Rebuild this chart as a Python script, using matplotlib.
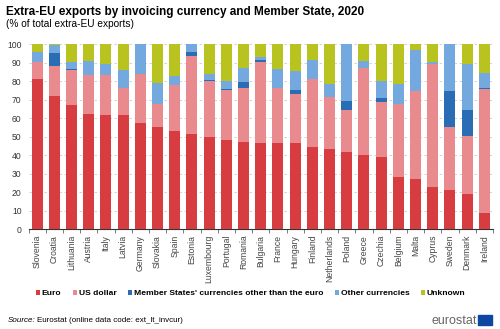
import numpy as np
import matplotlib.pyplot as plt
from matplotlib.patches import Rectangle

plt.rcParams['font.family'] = ['Liberation Sans', 'DejaVu Sans']

countries = ['Slovenia', 'Croatia', 'Lithuania', 'Austria', 'Italy', 'Latvia', 'Germany',
             'Slovakia', 'Spain', 'Estonia', 'Luxembourg', 'Portugal', 'Romania', 'Bulgaria',
             'France', 'Hungary', 'Finland', 'Netherlands', 'Poland', 'Greece', 'Czechia',
             'Belgium', 'Malta', 'Cyprus', 'Sweden', 'Denmark', 'Ireland']

# cumulative tops
euro = [81.4, 72.0, 67.0, 62.3, 62.0, 62.0, 57.3, 55.5, 53.2, 51.4, 50.1, 48.5, 47.4, 46.8,
        46.8, 46.5, 44.5, 43.6, 41.8, 40.2, 38.9, 28.3, 27.4, 22.7, 21.1, 18.9, 8.6]
usd_top = [90.3, 88.3, 86.1, 83.2, 83.2, 76.4, 83.8, 67.6, 78.2, 93.7, 80.4, 75.5, 76.6, 90.6,
           76.2, 73.0, 81.4, 71.7, 64.5, 87.4, 69.0, 67.6, 74.6, 89.5, 55.5, 50.5, 75.7]
ms_top = [90.3, 95.1, 86.7, 83.2, 83.2, 76.4, 84.2, 67.6, 78.2, 95.7, 80.7, 75.9, 79.6, 91.5,
          76.2, 75.3, 81.4, 71.7, 69.5, 87.4, 71.0, 67.9, 74.6, 89.5, 75.0, 64.5, 76.2]
other_top = [96.0, 99.7, 90.3, 91.2, 89.4, 86.1, 100.0, 79.3, 82.9, 100.0, 84.0, 80.2, 87.2, 93.3,
             86.5, 85.8, 91.4, 78.4, 100.0, 91.2, 80.2, 78.6, 97.1, 90.3, 100.0, 89.4, 84.7]

euro = np.array(euro)
usd = np.array(usd_top) - euro
ms = np.array(ms_top) - np.array(usd_top)
other = np.array(other_top) - np.array(ms_top)
unknown = 100 - np.array(other_top)

series = [('Euro', euro, '#d73c41'),
          ('US dollar', usd, '#e88a8e'),
          ("Member States' currencies other than the euro", ms, '#2a6db5'),
          ('Other currencies', other, '#73a9df'),
          ('Unknown', unknown, '#b9c31f')]

fig = plt.figure(figsize=(5, 3.29), dpi=100)
ax = fig.add_axes([0.057, 0.303, 0.929, 0.562])

x = np.arange(len(countries))
bottom = np.zeros(len(countries))
for name, vals, col in series:
    ax.bar(x, vals, 0.64, bottom=bottom, color=col, label=name, zorder=3)
    bottom += vals

ax.set_xlim(-0.5, len(countries) - 0.5)
ax.set_ylim(0, 100)
ax.set_yticks(range(0, 101, 10))
ax.yaxis.grid(True, linestyle=(0, (3, 3)), color='#cccccc', linewidth=0.6, zorder=0)
for s in ['top', 'right', 'left']:
    ax.spines[s].set_visible(False)
ax.spines['bottom'].set_color('#333333')
ax.tick_params(axis='y', length=0, labelsize=6.2, labelcolor='#333333', pad=5)
ax.set_xticks(x)
ax.set_xticklabels(countries, rotation=90, fontsize=6.2, color='#444444')
ax.tick_params(axis='x', length=0, pad=4)
ax.set_xticks(np.arange(-0.5, len(countries), 1), minor=True)
ax.tick_params(axis='x', which='minor', length=3, color='#666666')

fig.text(0.012, 0.965, 'Extra-EU exports by invoicing currency and Member State, 2020',
         fontsize=8.5, fontweight='bold', va='center')
fig.text(0.012, 0.927, '(% of total extra-EU exports)', fontsize=7.3, va='center')

handles, labels = ax.get_legend_handles_labels()
leg = fig.legend(handles, labels, loc='center', bbox_to_anchor=(0.501, 0.108), ncol=5,
                 frameon=False, handlelength=0.5, handleheight=0.5, handletextpad=0.2,
                 columnspacing=1.35, prop={'size': 6.1, 'weight': 'bold'})

fig.text(0.016, 0.025, 'Source:', fontsize=5.8, style='italic', va='center')
fig.text(0.074, 0.025, 'Eurostat (online data code: ext_lt_invcur)', fontsize=5.8, va='center')
fig.text(0.953, 0.025, 'eurostat', fontsize=9, color='#666666', ha='right', va='center')
fig.patches.append(Rectangle((0.956, 0.012), 0.028, 0.032, transform=fig.transFigure,
                             color='#0e47a1', figure=fig))

fig.savefig('out.png', dpi=100)
